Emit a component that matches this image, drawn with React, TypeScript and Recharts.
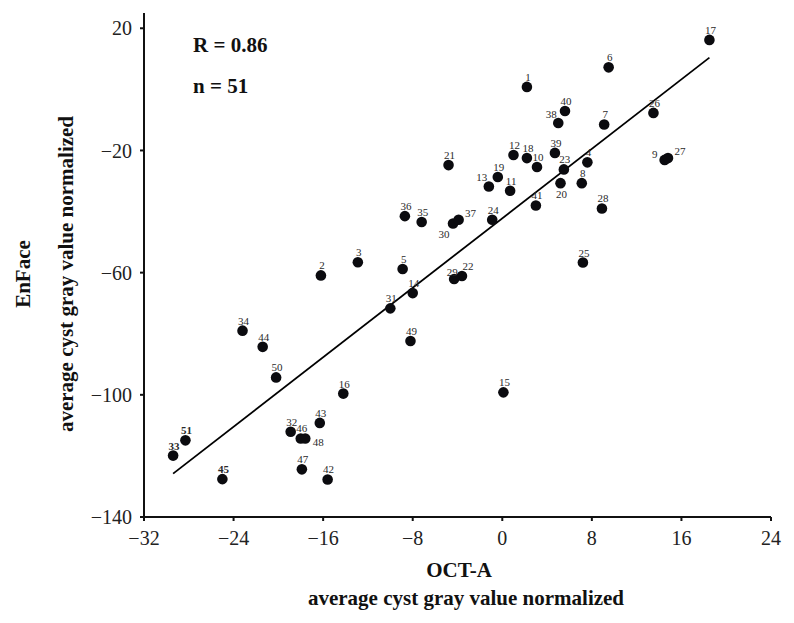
import React from "react";
import { ScatterChart, Scatter, XAxis, YAxis } from "recharts";

// case numbers, OCT-A (x) and EnFace (y) normalized gray values
const caseIds = [
  1, 2, 3, 4, 5, 6, 7, 8, 9, 10, 11, 12, 13, 14, 15, 16, 17, 18, 19, 20, 21, 22, 23, 24, 25, 26,
  27, 28, 29, 30, 31, 32, 33, 34, 35, 36, 37, 38, 39, 40, 41, 42, 43, 44, 45, 46, 47, 48, 49, 50, 51,
];
const octA = [
  2.2, -16.2, -12.9, 7.6, -8.9, 9.5, 9.1, 7.1, 14.5, 3.1, 0.7, 1.0, -1.2, -8.0, 0.1, -14.2, 18.5,
  2.2, -0.4, 5.2, -4.8, -3.6, 5.5, -0.9, 7.2, 13.5, 14.8, 8.9, -4.3, -4.4, -10.0, -18.9, -29.4,
  -23.2, -7.2, -8.7, -3.9, 5.0, 4.7, 5.6, 3.0, -15.6, -16.3, -21.4, -25.0, -18.0, -17.9, -17.6,
  -8.2, -20.2, -28.3,
];
const enFace = [
  0.8, -60.9, -56.6, -23.9, -58.8, 7.2, -11.5, -30.7, -23.1, -25.4, -33.2, -21.5, -31.8, -66.7,
  -99.2, -99.6, 16.2, -22.5, -28.7, -30.7, -24.8, -61.1, -26.2, -42.7, -56.7, -7.7, -22.5, -39.0,
  -62.1, -43.9, -71.7, -112.1, -119.9, -79.0, -43.4, -41.5, -42.7, -11.0, -20.8, -7.1, -38.0,
  -127.7, -109.2, -84.3, -127.6, -114.3, -124.4, -114.3, -82.4, -94.3, -114.9,
];

// fitted line end points
const fitX = [-29.4, 18.5];
const fitY = [-125.8, 10.4];

const xTicks = [-32, -24, -16, -8, 0, 8, 16, 24];
const yTicks = [20, -20, -60, -100, -140];

const boldIds = [33, 45, 51];

// where a case number sits relative to its dot (default: above)
const labelPlacement: Record<number, string> = {
  38: "upLeft",
  9: "left",
  27: "upRight",
  13: "upLeft",
  20: "below",
  37: "upRight",
  30: "belowLeft",
  29: "upLeftNear",
  48: "right",
  22: "upRightNear",
};

const placementOffsets: Record<string, [number, number]> = {
  top: [1, -10],
  upLeft: [-7, -9],
  upLeftNear: [-2, -7],
  upRight: [12, -7],
  upRightNear: [6, -10],
  left: [-10, -6],
  right: [13, 4],
  below: [1, 11],
  belowLeft: [-9, 11],
};

const points = caseIds.map((id, i) => ({ id, x: octA[i], y: enFace[i] }));
const fitLine = fitX.map((x, i) => ({ x, y: fitY[i] }));

const serif = "'Liberation Serif', 'DejaVu Serif', serif";

function CaseDot(props: any) {
  const { cx, cy, payload } = props;
  if (cx == null || cy == null) return null;
  const [dx, dy] = placementOffsets[labelPlacement[payload.id] ?? "top"];
  return (
    <g>
      <circle cx={cx} cy={cy} r={5.3} fill="#0b0b0f" />
      <text
        x={cx + dx}
        y={cy + dy}
        textAnchor="middle"
        dominantBaseline="central"
        fontFamily={serif}
        fontSize={11}
        fontWeight={boldIds.includes(payload.id) ? 700 : 400}
        fill="#2a2a2a"
      >
        {payload.id}
      </text>
    </g>
  );
}

const titleStyle: React.CSSProperties = {
  position: "absolute",
  fontFamily: serif,
  fontWeight: 700,
  fontSize: 21,
  color: "#111",
  whiteSpace: "nowrap",
  lineHeight: 1,
};

export default function App() {
  return (
    <div
      style={{
        position: "absolute",
        left: 0,
        top: 0,
        width: 794,
        height: 623,
        background: "#fff",
      }}
    >
      <ScatterChart
        width={794}
        height={623}
        margin={{ top: 13, right: 23, bottom: 66, left: 74 }}
      >
        <XAxis
          type="number"
          dataKey="x"
          domain={[-32, 24]}
          ticks={xTicks}
          allowDataOverflow
          height={40}
          stroke="#111"
          strokeWidth={2}
          tickSize={4}
          tickMargin={10}
          tick={{ fontFamily: serif, fontSize: 20, fill: "#222" }}
          tickFormatter={(v: number) => (v < 0 ? `\u2212${Math.abs(v)}` : `${v}`)}
        />
        <YAxis
          type="number"
          dataKey="y"
          domain={[-140, 25]}
          ticks={yTicks}
          allowDataOverflow
          width={70}
          stroke="#111"
          strokeWidth={2}
          tickSize={4}
          tickMargin={8}
          tick={{ fontFamily: serif, fontSize: 20, fill: "#222" }}
          tickFormatter={(v: number) => (v < 0 ? `\u2212${Math.abs(v)}` : `${v}`)}
        />
        <Scatter
          data={fitLine}
          line={{ stroke: "#000", strokeWidth: 1.8 }}
          lineType="joint"
          shape={() => <g />}
          isAnimationActive={false}
        />
        <Scatter data={points} shape={CaseDot} isAnimationActive={false} />
      </ScatterChart>

      <div style={{ ...titleStyle, left: 193, top: 35 }}>R = 0.86</div>
      <div style={{ ...titleStyle, left: 193, top: 76 }}>n = 51</div>

      <div
        style={{
          ...titleStyle,
          left: 23,
          top: 274,
          transform: "translate(-50%, -50%) rotate(-90deg)",
        }}
      >
        EnFace
      </div>
      <div
        style={{
          ...titleStyle,
          left: 66,
          top: 274,
          transform: "translate(-50%, -50%) rotate(-90deg)",
        }}
      >
        average cyst gray value normalized
      </div>

      <div style={{ ...titleStyle, left: 459, top: 570, transform: "translate(-50%, -50%)" }}>
        OCT-A
      </div>
      <div style={{ ...titleStyle, left: 466, top: 598, transform: "translate(-50%, -50%)" }}>
        average cyst gray value normalized
      </div>
    </div>
  );
}
